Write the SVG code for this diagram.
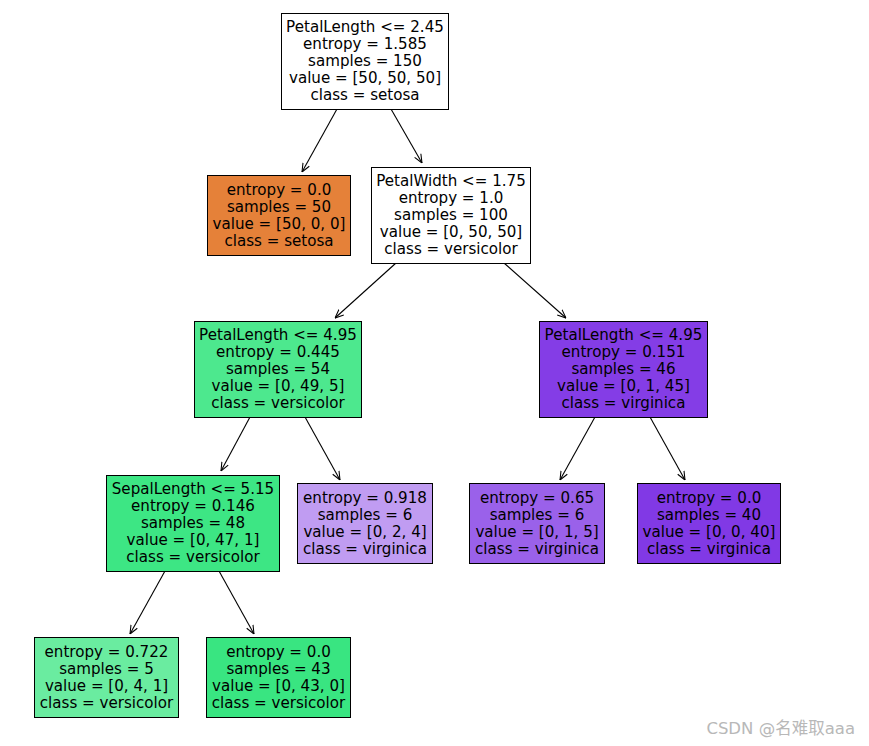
<svg xmlns="http://www.w3.org/2000/svg" width="869" height="746" viewBox="0 0 869 746">
<style>
.box{stroke:#000;stroke-width:1}
.t{font-family:"DejaVu Sans",sans-serif;font-size:15.1px;fill:#000;text-anchor:middle}
.e{stroke:#000;stroke-width:1.1;fill:none}
.wm{font-family:"DejaVu Sans","Noto Sans CJK SC",sans-serif;font-size:16.5px;fill:#b8b8b8}
</style>
<defs>
<marker id="arr" viewBox="0 0 10 10" refX="10" refY="5" markerWidth="9" markerHeight="9" markerUnits="userSpaceOnUse" orient="auto">
<path d="M0.5,1 L10,5 L0.5,9" fill="none" stroke="#000" stroke-width="1.2"/>
</marker>
</defs>
<rect width="869" height="746" fill="#fff"/>
<g id="edges">
<line class="e" x1="337" y1="109" x2="302" y2="172" marker-end="url(#arr)"/>
<line class="e" x1="391" y1="109" x2="422" y2="163" marker-end="url(#arr)"/>
<line class="e" x1="396" y1="263" x2="335" y2="318" marker-end="url(#arr)"/>
<line class="e" x1="504" y1="263" x2="566" y2="318" marker-end="url(#arr)"/>
<line class="e" x1="250" y1="417" x2="221" y2="471" marker-end="url(#arr)"/>
<line class="e" x1="305" y1="417" x2="340" y2="480" marker-end="url(#arr)"/>
<line class="e" x1="595" y1="417" x2="560" y2="480" marker-end="url(#arr)"/>
<line class="e" x1="650" y1="417" x2="685" y2="480" marker-end="url(#arr)"/>
<line class="e" x1="165" y1="571" x2="130" y2="634" marker-end="url(#arr)"/>
<line class="e" x1="219" y1="571" x2="254" y2="634" marker-end="url(#arr)"/>
</g>
<g id="n0">
<rect class="box" x="281.5" y="13.5" width="167" height="96" fill="#fff"/>
<text class="t" x="365" y="32"><tspan x="365">PetalLength &lt;= 2.45</tspan><tspan x="365" dy="17">entropy = 1.585</tspan><tspan x="365" dy="17">samples = 150</tspan><tspan x="365" dy="17">value = [50, 50, 50]</tspan><tspan x="365" dy="17">class = setosa</tspan></text>
</g>
<g id="n1">
<rect class="box" x="207.5" y="175.5" width="143" height="80" fill="#e58139"/>
<text class="t" x="279" y="194.5"><tspan x="279">entropy = 0.0</tspan><tspan x="279" dy="17">samples = 50</tspan><tspan x="279" dy="17">value = [50, 0, 0]</tspan><tspan x="279" dy="17">class = setosa</tspan></text>
</g>
<g id="n2">
<rect class="box" x="371.5" y="167.5" width="159" height="96" fill="#fff"/>
<text class="t" x="451" y="186"><tspan x="451">PetalWidth &lt;= 1.75</tspan><tspan x="451" dy="17">entropy = 1.0</tspan><tspan x="451" dy="17">samples = 100</tspan><tspan x="451" dy="17">value = [0, 50, 50]</tspan><tspan x="451" dy="17">class = versicolor</tspan></text>
</g>
<g id="n3">
<rect class="box" x="194.5" y="321.5" width="167" height="96" fill="#4de88e"/>
<text class="t" x="278" y="340"><tspan x="278">PetalLength &lt;= 4.95</tspan><tspan x="278" dy="17">entropy = 0.445</tspan><tspan x="278" dy="17">samples = 54</tspan><tspan x="278" dy="17">value = [0, 49, 5]</tspan><tspan x="278" dy="17">class = versicolor</tspan></text>
</g>
<g id="n4">
<rect class="box" x="539.5" y="321.5" width="168" height="96" fill="#843de6"/>
<text class="t" x="623.5" y="340"><tspan x="623.5">PetalLength &lt;= 4.95</tspan><tspan x="623.5" dy="17">entropy = 0.151</tspan><tspan x="623.5" dy="17">samples = 46</tspan><tspan x="623.5" dy="17">value = [0, 1, 45]</tspan><tspan x="623.5" dy="17">class = virginica</tspan></text>
</g>
<g id="n5">
<rect class="box" x="106.5" y="475.5" width="173" height="96" fill="#3de684"/>
<text class="t" x="193" y="494"><tspan x="193">SepalLength &lt;= 5.15</tspan><tspan x="193" dy="17">entropy = 0.146</tspan><tspan x="193" dy="17">samples = 48</tspan><tspan x="193" dy="17">value = [0, 47, 1]</tspan><tspan x="193" dy="17">class = versicolor</tspan></text>
</g>
<g id="n6">
<rect class="box" x="297.5" y="483.5" width="135" height="80" fill="#c09cf2"/>
<text class="t" x="365" y="502.5"><tspan x="365">entropy = 0.918</tspan><tspan x="365" dy="17">samples = 6</tspan><tspan x="365" dy="17">value = [0, 2, 4]</tspan><tspan x="365" dy="17">class = virginica</tspan></text>
</g>
<g id="n7">
<rect class="box" x="469.5" y="483.5" width="135" height="80" fill="#9a61ea"/>
<text class="t" x="537" y="502.5"><tspan x="537">entropy = 0.65</tspan><tspan x="537" dy="17">samples = 6</tspan><tspan x="537" dy="17">value = [0, 1, 5]</tspan><tspan x="537" dy="17">class = virginica</tspan></text>
</g>
<g id="n8">
<rect class="box" x="637.5" y="483.5" width="143" height="80" fill="#8139e5"/>
<text class="t" x="709" y="502.5"><tspan x="709">entropy = 0.0</tspan><tspan x="709" dy="17">samples = 40</tspan><tspan x="709" dy="17">value = [0, 0, 40]</tspan><tspan x="709" dy="17">class = virginica</tspan></text>
</g>
<g id="n9">
<rect class="box" x="34.5" y="637.5" width="144" height="80" fill="#6aeca0"/>
<text class="t" x="106.5" y="656.5"><tspan x="106.5">entropy = 0.722</tspan><tspan x="106.5" dy="17">samples = 5</tspan><tspan x="106.5" dy="17">value = [0, 4, 1]</tspan><tspan x="106.5" dy="17">class = versicolor</tspan></text>
</g>
<g id="n10">
<rect class="box" x="206.5" y="637.5" width="144" height="80" fill="#39e581"/>
<text class="t" x="278.5" y="656.5"><tspan x="278.5">entropy = 0.0</tspan><tspan x="278.5" dy="17">samples = 43</tspan><tspan x="278.5" dy="17">value = [0, 43, 0]</tspan><tspan x="278.5" dy="17">class = versicolor</tspan></text>
</g>
<text class="wm" x="855" y="734" text-anchor="end">CSDN @名难取aaa</text>
</svg>
